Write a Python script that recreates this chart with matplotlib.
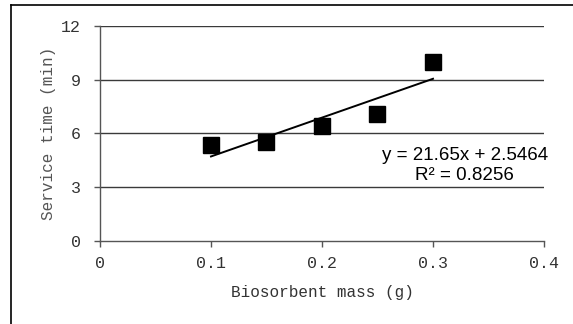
import matplotlib.pyplot as plt
from matplotlib.lines import Line2D

# data
mass = [0.1, 0.15, 0.2, 0.25, 0.3]
service_time = [5.35, 5.53, 6.43, 7.08, 10.0]

# linear trendline as printed on the chart
slope = 21.65
intercept = 2.5464
r_squared = 0.8256
fit_x = [0.1, 0.3]

x_ticks = [0, 0.1, 0.2, 0.3, 0.4]
x_tick_labels = ["0", "0.1", "0.2", "0.3", "0.4"]
y_ticks = [0, 3, 6, 9, 12]

fig = plt.figure(figsize=(5.73, 3.24), dpi=100)
ax = fig.add_axes([0.1745, 0.2562, 0.9494 - 0.1745, 0.9207 - 0.2562])

ax.set_xlim(0, 0.4)
ax.set_ylim(0, 12)

for v in y_ticks[1:]:
    ax.axhline(v, color="#3a3a3a", lw=1.0, zorder=1)

ax.plot(mass, service_time, "s", color="black", markersize=11, zorder=3)
fit_y = [slope * x + intercept for x in fit_x]
ax.plot(fit_x, fit_y, color="black", lw=1.4, zorder=2)

ax.text(0.4035, 4.2, f"y = {slope}x + {intercept}\nR² = {r_squared}",
        ha="right", va="center", multialignment="center", fontsize=13.5,
        family="Liberation Sans", linespacing=1.2)

for side in ["top", "right"]:
    ax.spines[side].set_visible(False)
for side in ["left", "bottom"]:
    ax.spines[side].set_color("#555555")
    ax.spines[side].set_linewidth(1.0)

ax.set_xticks(x_ticks)
ax.set_xticklabels(x_tick_labels)
ax.set_yticks(y_ticks)
ax.tick_params(axis="both", direction="out", length=4, width=1, color="#555555",
               labelsize=12, labelcolor="#333333")
ax.tick_params(axis="y", pad=10)
ax.tick_params(axis="x", pad=7)
for lab in ax.get_xticklabels() + ax.get_yticklabels():
    lab.set_family("Liberation Mono")

ax.set_xlabel("Biosorbent mass (g)", family="Liberation Mono", fontsize=11.5,
              color="#333333", labelpad=10)
ax.set_ylabel("Service time (min)", family="Liberation Mono", fontsize=11.5,
              color="#555555", labelpad=3)

# outer frame (left and top edges only visible)
fig.add_artist(Line2D([10.5 / 573, 10.5 / 573], [0, 1 - 5 / 324], color="black", lw=1.2,
                      transform=fig.transFigure))
fig.add_artist(Line2D([10.5 / 573, 1], [1 - 5 / 324, 1 - 5 / 324], color="black", lw=1.2,
                      transform=fig.transFigure))

fig.savefig("out.png", dpi=100)
